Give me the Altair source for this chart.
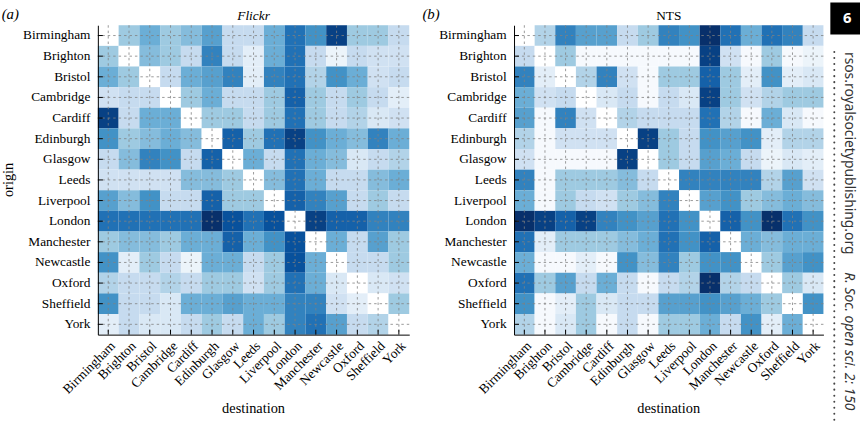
import altair as alt
import pandas as pd

cities = ["Birmingham", "Brighton", "Bristol", "Cambridge", "Cardiff", "Edinburgh", "Glasgow",
          "Leeds", "Liverpool", "London", "Manchester", "Newcastle", "Oxford", "Sheffield", "York"]

# Flow intensity from each origin (row) to each destination (column), on a 0-9 shade scale
flickr = [
    [0, 4, 5, 4, 4.5, 5.5, 3, 3, 5, 7, 6, 8.5, 4, 4, 3],
    [4, 0, 4.5, 4, 3, 6.5, 3, 1.5, 5, 7, 3, 1, 3, 2.5, 2.5],
    [5, 4, 0, 3, 5, 5.5, 6.5, 1.5, 6.5, 7, 3.5, 6, 5, 2.5, 3],
    [2.5, 3, 3, 0, 4, 5, 3, 3, 4, 7.5, 4, 3, 4, 3, 1.5],
    [8.5, 3, 5, 5, 0, 4, 4, 3, 4, 7, 4, 3, 3.5, 2, 2.5],
    [6, 4, 4.5, 5, 4.5, 0, 7.5, 4, 7, 8.5, 6, 5, 4.5, 6.5, 5],
    [3, 4.5, 6.5, 6, 3, 7.5, 0, 5, 3, 7, 5, 4.5, 2, 3, 3.5],
    [2.5, 2.5, 2.5, 2.5, 4.5, 4.5, 4, 0, 4.5, 7, 5, 3, 3, 4.5, 5],
    [5.5, 4.5, 6, 3, 3, 7.5, 4, 4, 0, 7.5, 6.5, 5.5, 3, 4, 3],
    [7, 7, 7, 7, 7, 9, 8, 7, 8, 0, 8.5, 7.5, 7.5, 6.5, 6.5],
    [4, 4.5, 4.5, 4, 5, 5, 7.5, 5, 6, 8, 0, 5, 3, 5.5, 4],
    [6, 1.5, 4, 3, 1, 5, 5, 3, 4, 8, 5, 0, 3, 3, 4],
    [3.5, 3, 3, 3.5, 3, 4, 4, 2.5, 4, 7, 5, 2, 0, 2, 2.5],
    [6, 3, 3, 2, 5, 5, 5.5, 5, 5, 6.5, 6.5, 2.5, 1.5, 0, 4],
    [1.5, 3, 2, 2, 3, 4, 3, 5, 4, 6.5, 7, 5.5, 3, 3.5, 0],
]

nts = [
    [0, 3.5, 6.5, 5.5, 5.5, 3, 4, 6.5, 6, 9, 7, 5, 7, 6.5, 3],
    [3, 0, 4, 0.5, 0.5, 0.5, 0.5, 0.5, 0.5, 8.5, 2.5, 0.5, 4, 0.5, 1],
    [6.5, 1.5, 0, 3.5, 6.5, 2.5, 0.5, 4, 4, 7.5, 4, 1.5, 6, 1.5, 2],
    [5, 2.5, 3, 0, 2, 3, 0.5, 3, 2, 8.5, 4, 2.5, 3.5, 4, 4],
    [5.5, 0.5, 6.5, 2.5, 0, 3.5, 3, 3, 3, 7, 3.5, 0.5, 5, 2, 0.5],
    [3.5, 0.5, 2.5, 2.5, 2.5, 0, 8.5, 4, 3, 6, 5.5, 6, 1.5, 3.5, 3.5],
    [2.5, 0.5, 0.5, 0.5, 0.5, 8.5, 0, 4, 3, 5.5, 5, 3, 1, 2, 1.5],
    [6.5, 0.5, 4, 4, 4, 4.5, 3, 0, 6.5, 6.5, 6.5, 6.5, 3.5, 5.5, 2.5],
    [5, 0.5, 4, 3, 2.5, 4, 4.5, 6.5, 0, 5.5, 6, 4, 4.5, 5, 4.5],
    [9, 8.5, 7.5, 8.5, 6.5, 6, 5.5, 7, 6, 0, 7.5, 6, 9, 7, 6],
    [7, 1.5, 4, 4, 4, 4.5, 5, 7, 6, 7.5, 0, 5, 4.5, 5, 5],
    [5, 0.5, 0.5, 1.5, 0.5, 6, 4.5, 6.5, 4, 6, 6, 0, 4, 5.5, 6],
    [7, 4, 5.5, 3, 5, 3, 0.5, 3, 3.5, 9, 3.5, 3, 0, 4, 2],
    [6, 0.5, 1.5, 4, 2, 3, 3, 5.5, 5.5, 6, 5.5, 5, 4, 0, 6],
    [3.5, 0.5, 2, 4, 0.5, 3, 0.5, 4, 4, 5, 3, 6, 1.5, 5, 0],
]

level_stops = [0, 1.75, 3, 4, 5, 6, 7, 8, 9]
blues = ["#ffffff", "#deebf7", "#c6dbef", "#9ecae1", "#6baed6",
         "#4292c6", "#2171b5", "#08519c", "#08306b"]

SERIF = "Liberation Serif"
H = 313


def to_long(matrix):
    rows = []
    for i, o in enumerate(cities):
        for j, d in enumerate(cities):
            rows.append({"origin": o, "destination": d, "level": matrix[i][j]})
    return pd.DataFrame(rows)


def text_layer(text, x, y, size, style="normal", angle=0, align="center",
               font=SERIF, color="black", weight="normal"):
    return alt.Chart(pd.DataFrame({"t": [text]})).mark_text(
        fontSize=size, fontStyle=style, angle=angle, align=align,
        baseline="alphabetic", font=font, color=color, fontWeight=weight,
    ).encode(text="t:N", x=alt.value(x), y=alt.value(y))


def panel(matrix, W, title, title_style, tag, tag_x, extra):
    x_enc = alt.X("destination:N", scale=alt.Scale(domain=cities), title=None,
                  axis=alt.Axis(labelAngle=315, labelAlign="right", labelBaseline="top",
                                labelPadding=4, ticks=False, grid=False,
                                domainColor="black", domainWidth=1,
                                labelFont=SERIF, labelFontSize=13.5, labelColor="black"))
    y_enc = alt.Y("origin:N", scale=alt.Scale(domain=cities), title=None,
                  axis=alt.Axis(labelPadding=8, ticks=False, grid=False,
                                domainColor="black", domainWidth=1,
                                labelFont=SERIF, labelFontSize=13.5, labelColor="black"))

    heat = alt.Chart(to_long(matrix)).mark_rect().encode(
        x=x_enc, y=y_enc,
        color=alt.Color("level:Q", legend=None,
                        scale=alt.Scale(domain=level_stops, range=blues, interpolate="rgb")),
    )
    lines = alt.Chart(pd.DataFrame({"origin": cities, "destination": cities}))
    grid_v = lines.mark_rule(color="#808080", strokeWidth=0.8, strokeDash=[2.5, 3]).encode(x=x_enc)
    grid_h = lines.mark_rule(color="#808080", strokeWidth=0.8, strokeDash=[2.5, 3]).encode(y=y_enc)
    tick_l = lines.mark_rule(color="black", strokeWidth=1).encode(
        y=y_enc, x=alt.value(0), x2=alt.value(5))
    tick_b = lines.mark_rule(color="black", strokeWidth=1).encode(
        x=x_enc, y=alt.value(H), y2=alt.value(H - 5))

    layers = [heat, grid_v, grid_h, tick_l, tick_b,
              text_layer(tag, tag_x, -6, 15, style="italic", align="left"),
              text_layer(title, W / 2, -5.5, 13.5, style=title_style),
              text_layer("destination", W / 2, H + 79, 14.5)] + extra
    return alt.layer(*layers).properties(width=W, height=H)


one = pd.DataFrame({"t": [0]})

left_extra = [
    text_layer("origin", -86, H / 2, 14.5, angle=270),
    alt.Chart(one).mark_rule(opacity=0).encode(
        x=alt.value(0), y=alt.value(-22.9), y2=alt.value(-15)),
]

# journal page furniture along the right edge
right_extra = [
    alt.Chart(one).mark_rect(color="black").encode(
        x=alt.value(320), x2=alt.value(350), y=alt.value(-22.9), y2=alt.value(9.5)),
    text_layer("6", 337, -2.5, 15, color="white", weight="bold", font="Noto Sans"),
    alt.Chart(one).mark_rule(color="#444444", strokeWidth=2, strokeCap="round",
                             strokeDash=[0.1, 6]).encode(
        x=alt.value(324), y=alt.value(27), y2=alt.value(410)),
    text_layer("rsos.royalsocietypublishing.org", 335, 27, 14, angle=90, align="left",
               font="Noto Sans", color="#333333"),
    text_layer("R. Soc. open sci. 2: 150", 335, 250, 14, style="italic", angle=90,
               align="left", font="Noto Sans", color="#333333"),
]

left = panel(flickr, 315, "Flickr", "italic", "(a)", -97.3, left_extra)
right = panel(nts, 313, "NTS", "normal", "(b)", -92.7, right_extra)

chart = alt.hconcat(left, right, spacing=12).properties(
    padding={"left": 1, "top": 0, "right": 0, "bottom": 0},
    background="white",
).configure_view(stroke=None)

chart.save("out.html", embed_options={"renderer": "svg", "actions": False})
